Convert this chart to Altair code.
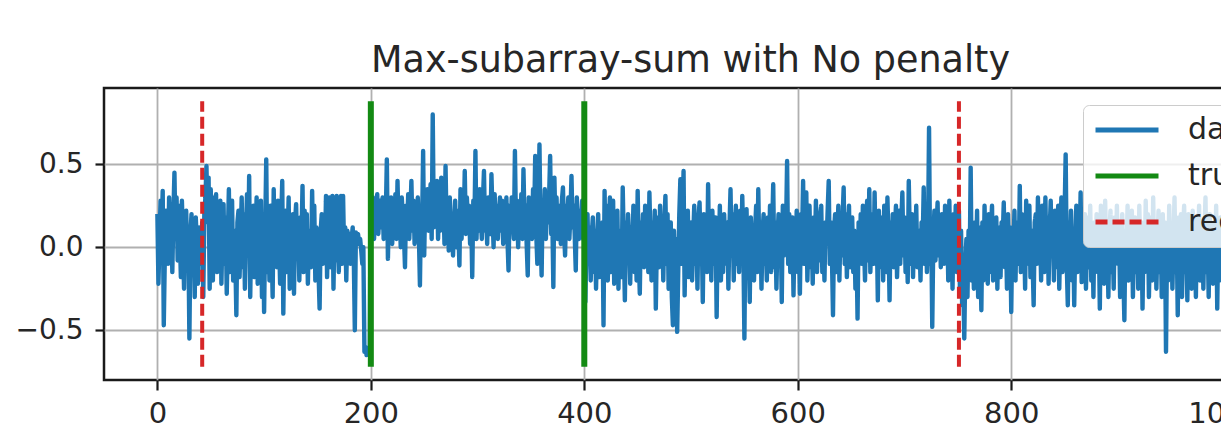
import altair as alt
import pandas as pd

# ---- data (one value per sample index) ----
y_values = [
    # 0-199
    0.20, -0.22, 0.05, 0.28, 0.10, 0.34, -0.47, -0.05, 0.22, 0.12,
    -0.10, 0.30, 0.08, 0.25, -0.15, 0.20, 0.45, 0.05, 0.30, -0.08,
    0.25, 0.10, -0.18, 0.28, 0.05, -0.25, 0.15, 0.22, -0.05, 0.10,
    -0.55, 0.08, 0.20, -0.12, 0.15, -0.30, 0.18, 0.02, -0.22, 0.12,
    0.05, -0.10, 0.15, -0.30, 0.20, 0.30, 0.49, 0.15, 0.42, -0.25,
    0.35, 0.10, -0.20, 0.30, 0.05, 0.32, -0.15, 0.20, -0.05, 0.28,
    -0.22, 0.10, 0.26, -0.10, 0.18, -0.28, 0.05, 0.35, -0.15, 0.12,
    0.28, -0.20, 0.10, -0.05, -0.41, 0.15, 0.22, -0.18, 0.05, 0.30,
    -0.12, 0.20, -0.25, 0.10, 0.32, -0.05, 0.43, -0.30, 0.15, -0.10,
    0.25, -0.18, 0.08, 0.30, -0.22, 0.12, -0.05, 0.28, -0.30, 0.15,
    -0.39, 0.10, 0.53, -0.15, 0.20, -0.20, 0.25, 0.02, -0.30, 0.35,
    -0.08, 0.18, -0.12, 0.28, 0.05, -0.22, 0.15, 0.40, -0.40, 0.10,
    0.22, -0.15, 0.05, 0.30, -0.25, 0.12, -0.10, 0.20, -0.28, 0.15,
    0.26, -0.05, 0.10, -0.20, 0.18, 0.05, 0.37, -0.15, 0.22, -0.08,
    0.20, -0.22, 0.10, 0.05, -0.12, 0.34, -0.05, 0.25, -0.20, 0.12,
    0.02, -0.15, -0.37, 0.10, 0.20, -0.10, 0.15, -0.05, 0.31, -0.18,
    0.10, 0.30, -0.12, 0.05, 0.31, -0.25, 0.15, -0.08, 0.31, 0.05,
    -0.15, 0.22, 0.31, -0.10, 0.31, -0.05, 0.12, -0.20, 0.10, 0.05,
    0.08, -0.10, 0.05, 0.12, -0.05, -0.50, 0.09, 0.06, 0.08, 0.02,
    0.05, -0.02, -0.10, 0.00, -0.63, -0.60, -0.65, -0.62, -0.64, -0.60,
    # 200-399
    0.52, 0.10, 0.30, 0.05, 0.25, 0.15, 0.32, 0.08, 0.20, 0.28,
    0.12, 0.30, 0.05, 0.22, 0.18, 0.53, -0.07, 0.25, 0.10, 0.30,
    0.02, 0.20, 0.15, 0.32, 0.05, 0.40, 0.12, 0.25, 0.00, 0.30,
    0.18, 0.08, -0.12, 0.25, 0.10, 0.32, 0.05, 0.20, 0.40, 0.10,
    0.28, 0.02, 0.20, 0.15, 0.30, 0.08, -0.23, 0.25, 0.12, 0.58,
    -0.05, 0.30, 0.18, 0.35, 0.10, 0.25, 0.38, 0.05, 0.80, 0.12,
    0.35, 0.20, 0.40, 0.05, 0.30, 0.10, 0.42, 0.15, 0.28, 0.02,
    0.49, 0.10, 0.25, -0.02, 0.30, 0.05, 0.20, -0.05, 0.15, 0.28,
    0.00, 0.22, 0.10, -0.11, 0.35, 0.05, 0.25, 0.12, 0.46, 0.08,
    0.30, 0.15, 0.25, 0.02, 0.20, -0.18, 0.28, 0.10, 0.58, 0.05,
    0.30, 0.10, 0.35, 0.18, 0.05, 0.28, 0.46, 0.10, 0.22, 0.02,
    0.30, 0.15, 0.08, 0.44, 0.20, 0.00, 0.32, 0.12, 0.25, 0.05,
    0.20, 0.30, 0.10, 0.28, 0.02, 0.22, 0.15, 0.30, 0.05, -0.14,
    0.25, 0.10, 0.30, 0.15, 0.05, 0.58, 0.12, 0.28, 0.00, 0.20,
    0.10, 0.32, 0.05, 0.47, 0.15, 0.25, 0.02, -0.17, 0.30, 0.10,
    0.22, 0.05, 0.35, 0.15, 0.55, 0.08, -0.10, 0.25, 0.62, 0.10,
    -0.17, 0.28, 0.12, 0.35, 0.05, 0.25, 0.15, 0.30, 0.55, 0.08,
    0.20, -0.24, 0.42, 0.10, 0.30, 0.05, 0.25, 0.15, 0.02, 0.28,
    0.36, 0.10, -0.05, 0.25, 0.15, 0.30, 0.05, 0.20, 0.43, 0.12,
    0.25, 0.08, -0.14, 0.30, 0.15, 0.05, 0.22, 0.10, 0.28, 0.05,
    # 400-999
    0.15, -0.33, 0.05, 0.20, -0.10, 0.12, -0.20, 0.08, 0.18, -0.15,
    0.10, -0.25, 0.05, 0.20, -0.18, 0.12, -0.05, 0.15, -0.47, 0.34,
    -0.10, 0.25, -0.20, 0.12, 0.30, -0.15, 0.05, 0.28, -0.22, 0.10,
    -0.05, 0.22, -0.25, 0.10, 0.05, -0.18, 0.36, 0.02, -0.32, 0.15,
    -0.10, 0.20, 0.05, -0.22, 0.12, -0.05, 0.25, -0.15, 0.10, -0.20,
    0.34, -0.05, -0.28, 0.15, 0.02, 0.20, -0.12, 0.25, -0.08, 0.10,
    -0.15, 0.33, 0.05, -0.20, 0.15, -0.10, 0.22, -0.37, 0.05, 0.18,
    -0.12, 0.25, -0.05, 0.10, -0.20, 0.15, 0.31, -0.10, 0.20, -0.25,
    0.05, 0.15, -0.30, -0.47, 0.10, -0.20, 0.05, -0.51, -0.15, 0.20,
    0.41, -0.10, 0.15, 0.46, -0.29, 0.10, -0.05, 0.22, -0.18, 0.08,
    0.15, -0.20, 0.05, 0.25, -0.10, 0.12, -0.25, 0.18, 0.27, -0.05,
    0.10, -0.33, 0.20, -0.05, 0.15, -0.15, 0.38, -0.08, 0.12, -0.20,
    0.22, -0.10, 0.05, 0.18, -0.42, 0.10, -0.05, 0.25, -0.20, 0.08,
    -0.15, 0.20, 0.02, -0.10, 0.15, -0.25, 0.12, 0.35, -0.05, 0.20,
    -0.20, 0.10, 0.25, -0.10, 0.05, -0.15, 0.22, -0.08, 0.31, 0.02,
    -0.55, 0.15, 0.23, -0.10, 0.05, -0.33, 0.18, -0.05, 0.12, -0.20,
    0.10, 0.25, -0.15, 0.35, -0.05, 0.15, -0.25, 0.08, 0.20, -0.10,
    0.05, -0.20, 0.18, -0.05, 0.25, -0.15, 0.10, 0.38, -0.12, 0.15,
    -0.25, 0.05, 0.20, -0.10, 0.12, -0.33, 0.25, -0.05, 0.15, 0.10,
    0.52, -0.10, 0.20, -0.15, 0.05, 0.18, -0.29, 0.10, -0.05, 0.22,
    -0.15, 0.10, -0.28, 0.20, 0.05, 0.40, -0.10, 0.15, 0.33, -0.20,
    0.05, 0.25, -0.12, 0.10, -0.22, 0.18, -0.05, 0.28, -0.15, 0.10,
    -0.08, 0.20, 0.25, -0.15, 0.05, -0.20, 0.15, 0.02, 0.22, 0.40,
    -0.10, 0.15, -0.05, -0.41, 0.10, 0.20, -0.15, 0.05, 0.25, -0.20,
    0.12, -0.05, 0.18, 0.36, -0.10, 0.20, -0.18, 0.08, 0.25, -0.12,
    0.05, 0.18, -0.15, 0.10, -0.25, 0.02, -0.43, 0.15, -0.05, 0.20,
    -0.10, 0.25, 0.05, -0.20, 0.15, 0.28, -0.08, 0.35, -0.15, 0.10,
    0.20, -0.10, 0.33, -0.05, 0.12, -0.32, 0.22, -0.12, 0.05, 0.18,
    -0.20, 0.25, 0.10, -0.15, 0.30, 0.05, -0.32, 0.15, -0.05, 0.20,
    -0.12, 0.10, 0.25, -0.18, 0.05, 0.22, -0.10, 0.15, 0.33, -0.05,
    0.18, -0.15, 0.10, -0.21, 0.40, 0.05, -0.10, 0.20, -0.18, 0.12,
    -0.05, 0.25, -0.12, 0.10, 0.05, -0.20, 0.15, 0.02, 0.36, -0.10,
    0.20, -0.15, 0.05, 0.72, -0.10, 0.15, -0.48, 0.05, 0.22, -0.08,
    0.12, 0.27, -0.05, 0.18, -0.12, 0.20, 0.05, -0.10, 0.25, 0.02,
    0.15, -0.20, 0.28, -0.10, 0.05, -0.25, 0.20, -0.05, 0.25, -0.15,
    0.05, 0.22, -0.29, 0.10, -0.35, -0.20, -0.55, -0.10, 0.05, -0.30,
    0.10, -0.15, 0.48, -0.20, 0.05, -0.25, 0.15, -0.10, 0.22, -0.30,
    0.12, -0.05, -0.38, 0.15, -0.20, 0.25, -0.10, 0.05, -0.22, 0.20,
    -0.15, 0.10, 0.25, -0.20, 0.05, -0.10, 0.18, -0.25, 0.12, 0.02,
    -0.18, 0.15, 0.05, 0.27, -0.12, 0.10, -0.25, 0.20, -0.05, 0.12,
    -0.39, 0.10, -0.05, 0.22, -0.20, 0.15, 0.05, -0.10, 0.37, -0.15,
    0.20, -0.05, 0.12, -0.25, 0.28, -0.10, 0.05, 0.25, -0.18, 0.10,
    -0.08, -0.35, 0.15, 0.20, -0.10, 0.30, -0.05, 0.12, -0.20, 0.25,
    0.05, -0.15, 0.30, -0.10, 0.18, -0.22, 0.10, 0.28, -0.05, 0.15,
    -0.20, 0.22, 0.05, -0.12, 0.25, -0.25, 0.10, 0.30, -0.15, 0.05,
    0.20, 0.56, -0.10, -0.35, 0.15, -0.05, 0.22, -0.20, 0.10, -0.35,
    0.05, 0.25, -0.15, 0.10, -0.05, 0.33, -0.21, 0.15, -0.10, 0.20,
    -0.25, 0.05, 0.18, -0.12, 0.25, -0.20, 0.10, -0.30, 0.15, -0.05,
    0.20, -0.15, 0.10, -0.37, 0.25, -0.10, 0.05, -0.22, 0.28, -0.05,
    0.15, -0.30, 0.10, 0.22, -0.15, 0.05, -0.25, 0.18, -0.08, 0.25,
    -0.10, 0.15, -0.30, 0.05, 0.20, -0.15, -0.44, 0.10, -0.05, 0.25,
    -0.20, 0.12, -0.10, 0.22, -0.30, 0.05, 0.18, -0.15, 0.10, -0.25,
    0.25, -0.05, 0.15, -0.37, 0.10, -0.15, 0.28, -0.08, 0.20, -0.30,
    0.05, 0.18, -0.20, 0.30, -0.10, 0.12, -0.25, 0.05, 0.22, -0.15,
    0.10, -0.30, 0.20, -0.05, 0.15, -0.63, 0.05, -0.20, 0.25, -0.10,
    0.12, -0.25, 0.05, 0.30, -0.15, 0.10, -0.41, 0.18, -0.05, 0.20,
    -0.30, 0.10, 0.25, -0.15, 0.05, -0.32, 0.20, -0.10, 0.15, -0.25,
    0.22, -0.05, 0.12, -0.30, 0.18, -0.10, 0.25, -0.20, 0.05, 0.15,
    -0.25, 0.10, 0.30, -0.15, 0.05, -0.30, 0.20, -0.10, 0.12, -0.22,
    0.15, -0.05, 0.25, -0.37, 0.10, -0.20, 0.18, -0.05, 0.15, -0.10,
]
x_values = list(range(len(y_values)))

true_changepoints = [200, 400]
rec_changepoints = [42, 751]
vline_low = -0.72
vline_high = 0.88

series_names = ["data", "true", "rec"]
series_colors = ["#1f77b4", "#138a13", "#d62728"]
series_dashes = [[1, 0], [1, 0], [12, 5]]

x_ticks = [0, 200, 400, 600, 800, 1000]
y_ticks = [-0.5, 0.0, 0.5]
x_domain = [-50, 1049]
y_domain = [-0.80, 0.96]

title_text = "Max-subarray-sum with No penalty"

# ---- tables ----
df_line = pd.DataFrame({"x": x_values, "y": y_values, "series": "data"})
df_true = pd.DataFrame({"x": true_changepoints, "y": vline_low, "y2": vline_high, "series": "true"})
df_rec = pd.DataFrame({"x": rec_changepoints, "y": vline_low, "y2": vline_high, "series": "rec"})

FONT = "DejaVu Sans"

legend = alt.Legend(
    title=None,
    orient="none",
    legendX=979,
    legendY=17,
    symbolType="stroke",
    symbolSize=3969,
    symbolStrokeWidth=5,
    labelFontSize=30,
    labelFont=FONT,
    labelColor="#262626",
    labelOffset=27,
    clipHeight=30,
    rowPadding=16,
    padding=10,
    fillColor="rgba(255,255,255,0.8)",
    strokeColor="#cccccc",
    cornerRadius=6,
)

color = alt.Color("series:N", scale=alt.Scale(domain=series_names, range=series_colors), legend=legend)
dash = alt.StrokeDash("series:N", scale=alt.Scale(domain=series_names, range=series_dashes), legend=legend)

x_enc = alt.X(
    "x:Q",
    scale=alt.Scale(domain=x_domain, nice=False, zero=False),
    axis=alt.Axis(title=None, values=x_ticks, format="d", labelFontSize=29,
                  tickSize=10, labelPadding=9),
)
y_enc = alt.Y(
    "y:Q",
    scale=alt.Scale(domain=y_domain, nice=False, zero=False),
    axis=alt.Axis(title=None, values=y_ticks, format=".1f", labelFontSize=28,
                  tickSize=9, labelPadding=12),
)

line = alt.Chart(df_line).mark_line(strokeWidth=4.4, strokeJoin="round").encode(
    x=x_enc, y=y_enc, color=color, strokeDash=dash, order="x:Q"
)
true_rules = alt.Chart(df_true).mark_rule(strokeWidth=6).encode(
    x="x:Q", y="y:Q", y2="y2:Q", color=color, strokeDash=dash
)
rec_rules = alt.Chart(df_rec).mark_rule(strokeWidth=4).encode(
    x="x:Q", y="y:Q", y2="y2:Q", color=color, strokeDash=dash
)

chart = (
    alt.layer(line, true_rules, rec_rules)
    .properties(
        width=1173,
        height=292,
        autosize=alt.AutoSizeParams(type="none"),
        padding={"left": 96, "top": 80, "right": -56, "bottom": 50},
        title=alt.TitleParams(title_text, fontSize=36.5, font=FONT, fontWeight="normal",
                              color="#262626", offset=9, anchor="middle"),
    )
    .configure_view(stroke="#1a1a1a", strokeWidth=2.5)
    .configure_axis(
        grid=True,
        gridColor="#b0b0b0",
        gridWidth=1.8,
        domain=False,
        tickColor="#1a1a1a",
        tickWidth=2.2,
        labelFont=FONT,
        labelColor="#262626",
    )
)

chart.save("out.html", embed_options={"renderer": "svg", "actions": False})
